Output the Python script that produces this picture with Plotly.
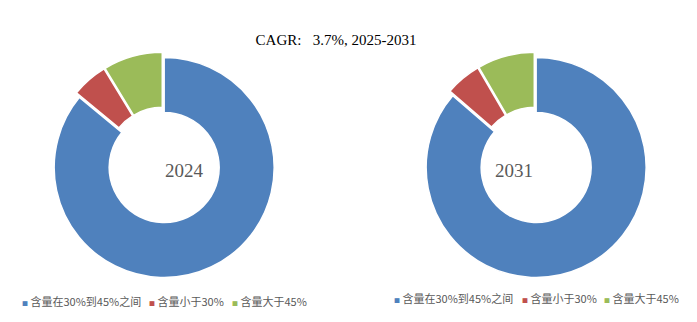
import plotly.graph_objects as go

labels = ["含量在30%到45%之间", "含量小于30%", "含量大于45%"]
share_2024 = [86.0, 5.3, 8.7]
share_2031 = [86.3, 5.3, 8.4]
years = ["2024", "2031"]
colors = ["#4F81BD", "#C0504D", "#9BBB59"]
title_text = "CAGR:   3.7%, 2025-2031"

W, H = 697, 322

def dom(cx, cy, r):
    return dict(x=[(cx - r) / W, (cx + r) / W], y=[(H - cy - r) / H, (H - cy + r) / H])

fig = go.Figure()
pull = 0.025
for vals, cx in [(share_2024, 163), (share_2031, 535)]:
    fig.add_trace(go.Pie(
        labels=labels, values=vals, hole=0.5, sort=False, direction="clockwise",
        rotation=0, pull=[pull] * 3, textinfo="none", showlegend=False,
        marker=dict(colors=colors, line=dict(color="white", width=1.5)),
        domain=dom(cx, 165, 110 * (1 + pull)),
    ))

# legend entries: one legend per item so each can be placed like the reference
legfont = dict(family="Noto Sans CJK SC", size=11, color="#595959")
legend_layout = {}
marker_x = [[22, 149, 232], [394, 522, 604]]
leg_y = [302, 299]
n = 0
for g in range(2):
    for i, lab in enumerate(labels):
        n += 1
        key = "legend" if n == 1 else f"legend{n}"
        name = f'<span style="color:{colors[i]};font-size:6px">■</span> {lab}'
        fig.add_trace(go.Scatter(
            x=[None], y=[None], mode="markers", name=name, legend=key,
            marker=dict(symbol="square", size=6, color="rgba(0,0,0,0)"),
            hoverinfo="skip",
        ))
        legend_layout[key] = dict(
            x=(marker_x[g][i] - 40) / W, y=(H - leg_y[g]) / H, xanchor="left", yanchor="middle",
            font=legfont, itemwidth=30, bgcolor="rgba(0,0,0,0)", borderwidth=0,
        )

for yr, cx in zip(years, [163, 535]):
    fig.add_annotation(text=yr, x=cx / W, y=(H - 170) / H, xref="paper", yref="paper",
                       showarrow=False, font=dict(family="Liberation Serif", size=19, color="#595959"))

fig.update_layout(
    width=W, height=H, margin=dict(l=0, r=0, t=0, b=0, autoexpand=False),
    paper_bgcolor="white", plot_bgcolor="rgba(0,0,0,0)",
    xaxis=dict(visible=False), yaxis=dict(visible=False),
    title=dict(text=title_text, x=336 / W, xanchor="center", y=(H - 40) / H, yanchor="middle",
               font=dict(family="Liberation Serif", size=15, color="#000000", weight="normal")),
    **legend_layout,
)

fig.write_html("out.html")
